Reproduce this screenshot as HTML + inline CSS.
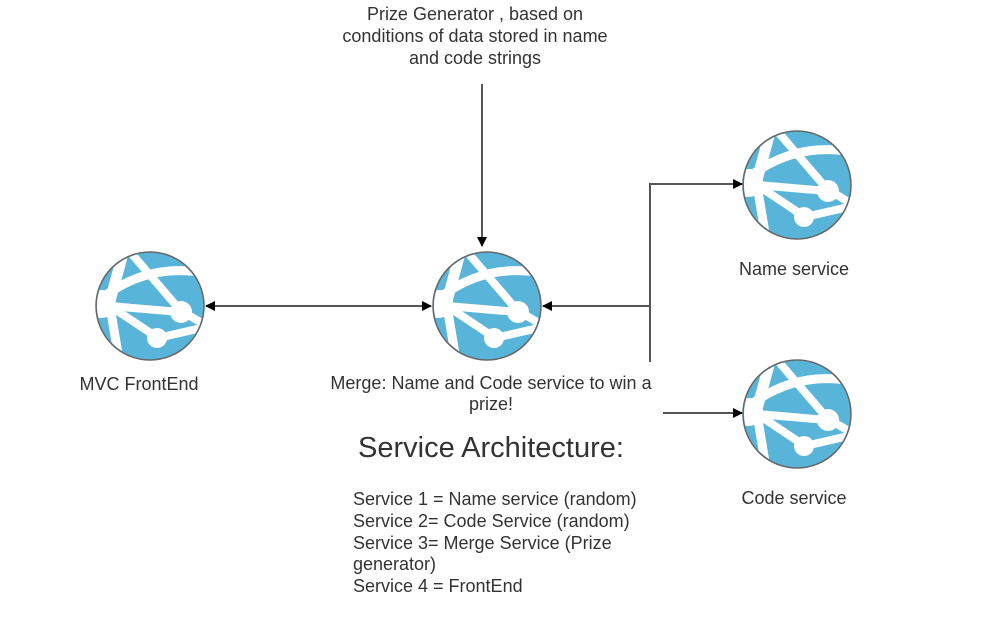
<!DOCTYPE html>
<html><head><meta charset="utf-8"><style>
body{margin:0;width:983px;height:622px;background:#fff;overflow:hidden}
svg text{font-family:"Liberation Sans",sans-serif;fill:#333}
</style></head><body>
<svg width="983" height="622" viewBox="0 0 983 622">
<defs>
<clipPath id="c"><circle cx="0" cy="0" r="53"/></clipPath>
<g id="ic">
<circle r="54" fill="#59b4d9" stroke="#666" stroke-width="1.5"/>
<g clip-path="url(#c)" stroke="#fff" stroke-linecap="round" fill="none">
<path d="M-25,-60 L-40,-5" stroke-width="11"/>
<path d="M-48,-8 Q0,-45 60,-32" stroke-width="9"/>
<path d="M-25,-60 L30,4 L60,22" stroke-width="8"/>
<path d="M-40,0 L30,6" stroke-width="8"/>
<path d="M-40,0 L8,32 L60,20" stroke-width="8"/>
<path d="M-40,0 L-30,60" stroke-width="9"/>
<circle cx="-48" cy="-2" r="14" fill="#fff" stroke="none"/>
<circle cx="31" cy="6" r="11" fill="#fff" stroke="none"/>
<circle cx="7" cy="32" r="10" fill="#fff" stroke="none"/>
</g>
</g>
<marker id="a" markerWidth="10" markerHeight="10" refX="9" refY="5" orient="auto" markerUnits="userSpaceOnUse"><path d="M0,0 L10,5 L0,10 z" fill="#000"/></marker>
<marker id="s" markerWidth="10" markerHeight="10" refX="1" refY="5" orient="auto" markerUnits="userSpaceOnUse"><path d="M10,0 L0,5 L10,10 z" fill="#000"/></marker>
</defs>
<use href="#ic" x="150" y="306"/>
<use href="#ic" x="487" y="306"/>
<use href="#ic" x="797" y="185"/>
<use href="#ic" x="797" y="414"/>
<g stroke="#555" stroke-width="2" fill="none">
<line x1="206" y1="306" x2="431" y2="306" marker-start="url(#s)" marker-end="url(#a)"/>
<line x1="482" y1="84" x2="482" y2="246" marker-end="url(#a)"/>
<path d="M650,306 L543,306" marker-end="url(#a)"/>
<path d="M650,362 L650,184 L742,184" marker-end="url(#a)"/>
<path d="M663,413 L742,413" marker-end="url(#a)"/>
</g>
<g font-size="18" text-anchor="middle">
<text x="475" y="20">Prize Generator , based on</text>
<text x="475" y="42">conditions of data stored in name</text>
<text x="475" y="64">and code strings</text>
<text x="139" y="390">MVC FrontEnd</text>
<text x="491" y="389">Merge: Name and Code service to win a</text>
<text x="491" y="410">prize!</text>
<text x="794" y="275">Name service</text>
<text x="794" y="504">Code service</text>
<text x="491" y="457" font-size="29">Service Architecture:</text>
</g>
<g font-size="18">
<text x="353" y="505">Service 1 = Name service (random)</text>
<text x="353" y="527">Service 2= Code Service (random)</text>
<text x="353" y="549">Service 3= Merge Service (Prize</text>
<text x="353" y="570">generator)</text>
<text x="353" y="592">Service 4 = FrontEnd</text>
</g>
</svg>
</body></html>
